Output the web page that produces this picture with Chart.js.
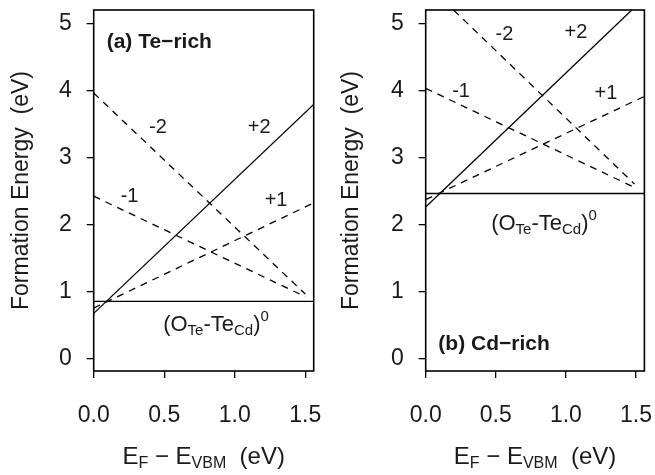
<!DOCTYPE html>
<html><head><meta charset="utf-8">
<script src="https://cdn.jsdelivr.net/npm/chart.js@4.4.1/dist/chart.umd.min.js"></script>
<style>
html,body{margin:0;padding:0;background:#fff;width:655px;height:475px;overflow:hidden}
.p{position:absolute;top:0;height:475px}
</style></head><body>
<div class="p" style="left:0;width:330px"><canvas id="c1" width="330" height="475"></canvas></div>
<div class="p" style="left:330px;width:325px"><canvas id="c2" width="325" height="475"></canvas></div>
<script>
// ---- data ----
const xTicks = [0, 0.5, 1.0, 1.5];
const yTicks = [0, 1, 2, 3, 4, 5];
const xRange = [0, 1.56];
const yRange = [-0.19, 5.2];

// (a) Te-rich : formation energy lines (E_F, E)
const teNeutral = [{x:0, y:0.85}, {x:1.56, y:0.85}];
const teP2      = [{x:0, y:0.67}, {x:1.56, y:3.79}];
const teP1      = [{x:0, y:0.75}, {x:1.56, y:2.32}];
const teM1      = [{x:0, y:2.42}, {x:1.50, y:0.92}];
const teM2      = [{x:0, y:3.96}, {x:1.50, y:0.96}];

// (b) Cd-rich
const cdNeutral = [{x:0, y:2.46}, {x:1.56, y:2.46}];
const cdP2      = [{x:0, y:2.26}, {x:1.47, y:5.20}];
const cdP1      = [{x:0, y:2.37}, {x:1.56, y:3.91}];
const cdM1      = [{x:0, y:4.03}, {x:1.49, y:2.55}];
const cdM2      = [{x:0, y:5.60}, {x:1.49, y:2.60}];

const FONT = '"Liberation Sans", Arial, Helvetica, sans-serif';
const TXT = '#1a1a1a';

function drawRich(ctx, segs, x, y, align) {
  let w = 0;
  segs.forEach(s => { ctx.font = (s[3] ? 'bold ' : '') + s[1] + 'px ' + FONT; w += ctx.measureText(s[0]).width; });
  let cx = align === 'center' ? x - w / 2 : x;
  ctx.textBaseline = 'alphabetic';
  ctx.textAlign = 'left';
  segs.forEach(s => {
    ctx.font = (s[3] ? 'bold ' : '') + s[1] + 'px ' + FONT;
    ctx.fillText(s[0], cx, y + s[2]);
    cx += ctx.measureText(s[0]).width;
  });
}

function zeroPad(s) { s.paddingTop = 0; s.paddingBottom = 0; s.paddingLeft = 0; s.paddingRight = 0; }

function makePanel(id, sets, ann, yWidth, padRight) {
  const ds = sets.map(s => ({
    data: s.data, borderColor: '#000', borderWidth: 1.3, borderDash: s.dash ? [7, 6] : [],
    pointRadius: 0, tension: 0, fill: false
  }));
  const deco = {
    id: 'deco',
    afterDraw(chart) {
      const {ctx, chartArea: a, scales: {x, y}} = chart;
      ctx.save();
      ctx.strokeStyle = '#000'; ctx.lineWidth = 1.6;
      ctx.strokeRect(a.left, a.top, a.right - a.left, a.bottom - a.top);
      ctx.fillStyle = TXT;
      ann.forEach(t => {
        const px = x.getPixelForValue(t.x), py = y.getPixelForValue(t.y);
        if (t.rich) { drawRich(ctx, t.rich, px, py, t.align); }
        else {
          ctx.font = (t.bold ? 'bold ' : '') + t.size + 'px ' + FONT;
          ctx.textAlign = t.align; ctx.textBaseline = 'middle';
          ctx.fillText(t.text, px, py);
        }
      });
      drawRich(ctx, [['E',24,0],['F',16,4],[' \u2212 ',24,0],['E',24,0],['VBM',16,4],['  (eV)',24,0]],
               (a.left + a.right) / 2, 464, 'center');
      ctx.restore();
    }
  };
  return new Chart(document.getElementById(id), {
    type: 'line',
    data: { datasets: ds },
    options: {
      responsive: false, animation: false, events: [],
      layout: { padding: { left: 0, top: 10, right: padRight, bottom: 0 } },
      plugins: { legend: { display: false }, tooltip: { enabled: false } },
      scales: {
        x: {
          type: 'linear', min: xRange[0], max: xRange[1],
          afterBuildTicks: s => { s.ticks = xTicks.map(v => ({ value: v })); },
          afterFit: s => { s.height = 104; zeroPad(s); },
          grid: { drawOnChartArea: false, drawTicks: true, tickLength: 7, color: '#000', lineWidth: 1.3 },
          border: { display: false },
          ticks: { color: TXT, font: { family: FONT, size: 23 }, padding: 24, maxRotation: 0,
                   callback: v => Number(v).toFixed(1) }
        },
        y: {
          type: 'linear', min: yRange[0], max: yRange[1],
          afterBuildTicks: s => { s.ticks = yTicks.map(v => ({ value: v })); },
          afterFit: s => { s.width = yWidth; zeroPad(s); },
          grid: { drawOnChartArea: false, drawTicks: true, tickLength: 7, color: '#000', lineWidth: 1.3 },
          border: { display: false },
          ticks: { color: TXT, font: { family: FONT, size: 23 }, padding: 15, callback: v => String(v) },
          title: { display: true, text: 'Formation Energy  (eV)', color: TXT,
                   font: { family: FONT, size: 23 }, padding: { top: 8, bottom: 0 } }
        }
      }
    },
    plugins: [deco]
  });
}

const neutralRich = [['(O',22,0],['Te',15,4],['-Te',22,0],['Cd',15,4],[')',22,0],['0',15,-10]];

makePanel('c1', [
  { data: teNeutral, dash: false }, { data: teP2, dash: false },
  { data: teP1, dash: true }, { data: teM1, dash: true }, { data: teM2, dash: true }
], [
  { text: '(a) Te\u2212rich', x: 0.092, y: 4.72, size: 21, bold: true, align: 'left' },
  { text: '-2', x: 0.456, y: 3.44, size: 20, align: 'center' },
  { text: '+2', x: 1.173, y: 3.44, size: 20, align: 'center' },
  { text: '-1', x: 0.254, y: 2.41, size: 20, align: 'center' },
  { text: '+1', x: 1.293, y: 2.36, size: 20, align: 'center' },
  { rich: neutralRich, x: 0.867, y: 0.40, align: 'center' }
], 93.7, 16.3);

makePanel('c2', [
  { data: cdNeutral, dash: false }, { data: cdP2, dash: false },
  { data: cdP1, dash: true }, { data: cdM1, dash: true }, { data: cdM2, dash: true }
], [
  { text: '(b) Cd\u2212rich', x: 0.09, y: 0.21, size: 21, bold: true, align: 'left' },
  { text: '-2', x: 0.562, y: 4.83, size: 20, align: 'center' },
  { text: '+2', x: 1.072, y: 4.86, size: 20, align: 'center' },
  { text: '-1', x: 0.252, y: 3.98, size: 20, align: 'center' },
  { text: '+1', x: 1.286, y: 3.96, size: 20, align: 'center' },
  { rich: neutralRich, x: 0.844, y: 1.92, align: 'center' }
], 95.7, 10.6);
</script>
</body></html>
